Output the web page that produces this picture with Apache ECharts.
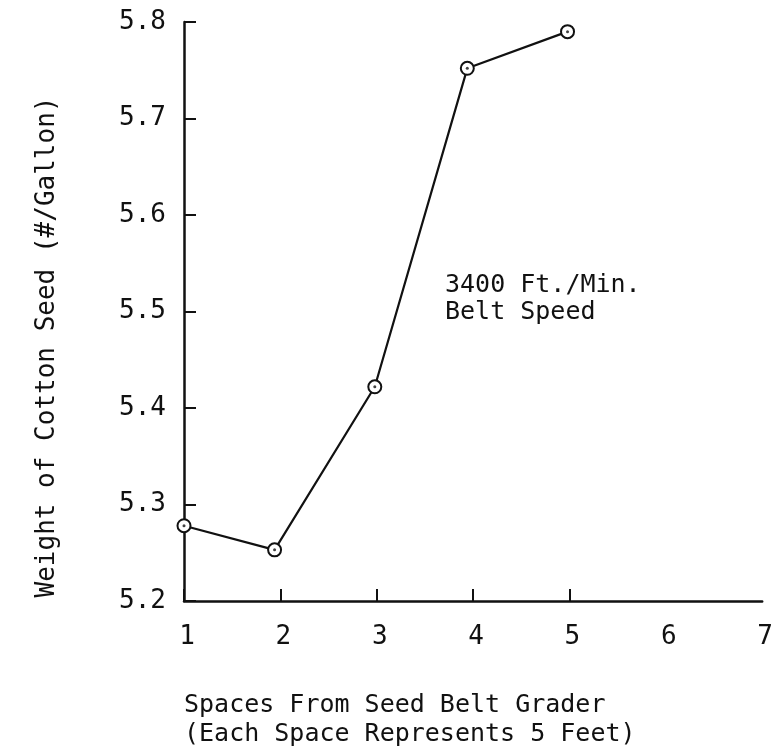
<!DOCTYPE html>
<html>
<head>
<meta charset="utf-8">
<script src="https://cdn.jsdelivr.net/npm/echarts@6/dist/echarts.min.js"></script>
<style>
  html, body { margin: 0; padding: 0; background: #fff; }
  #chart { width: 776px; height: 755px; }
</style>
</head>
<body>
<div id="chart"></div>
<script>
  // values
  var spaces = [1, 1.94, 2.98, 3.94, 4.98];
  var weights = [5.278, 5.253, 5.422, 5.752, 5.79];
  var xTicks = [1, 2, 3, 4, 5, 6, 7];
  var xTickMarks = [1, 2, 3, 4, 5];   // the drawn ticks stop at 5
  var yTicks = [5.2, 5.3, 5.4, 5.5, 5.6, 5.7, 5.8];

  var ink = '#111';
  var font = '"DejaVu Sans Mono", "Liberation Mono", monospace';

  var points = spaces.map(function (s, i) { return [s, weights[i]]; });

  var myChart = echarts.init(document.getElementById('chart'));

  var option = {
    backgroundColor: '#fff',
    animation: false,
    grid: { left: 184, right: 12, top: 22, bottom: 154 },
    xAxis: {
      type: 'value',
      min: xTicks[0],
      max: xTicks[xTicks.length - 1],
      interval: 1,
      splitLine: { show: false },
      axisLine: { lineStyle: { color: ink, width: 2.5 } },
      axisTick: {
        inside: true,
        length: 12,
        customValues: xTickMarks,
        lineStyle: { color: ink, width: 2 }
      },
      axisLabel: {
        margin: 23,
        padding: [0, 0, 0, 6],
        color: ink,
        fontFamily: font,
        fontSize: 26,
        formatter: function (v) { return String(v); }
      }
    },
    yAxis: {
      type: 'value',
      min: yTicks[0],
      max: yTicks[yTicks.length - 1],
      interval: 0.1,
      splitLine: { show: false },
      axisLine: { lineStyle: { color: ink, width: 2.5 } },
      axisTick: { inside: true, length: 12, lineStyle: { color: ink, width: 2 } },
      axisLabel: {
        margin: 18,
        color: ink,
        fontFamily: font,
        fontSize: 26,
        formatter: function (v) { return v.toFixed(1); }
      }
    },
    graphic: [
      {
        type: 'text',
        x: 47,
        y: 347,
        rotation: Math.PI / 2,
        style: {
          text: 'Weight of Cotton Seed (#/Gallon)',
          fill: ink,
          font: '26px ' + font,
          align: 'center',
          verticalAlign: 'middle'
        }
      },
      {
        type: 'text',
        left: 184,
        top: 691,
        style: {
          text: 'Spaces From Seed Belt Grader\n(Each Space Represents 5 Feet)',
          fill: ink,
          font: '25px ' + font,
          lineHeight: 29
        }
      },
      {
        type: 'text',
        left: 445,
        top: 272,
        style: {
          text: '3400 Ft./Min.\nBelt Speed',
          fill: ink,
          font: '25px ' + font,
          lineHeight: 27
        }
      }
    ],
    series: [
      {
        type: 'line',
        data: points,
        symbol: 'circle',
        symbolSize: 13,
        itemStyle: { color: '#fff', borderColor: ink, borderWidth: 2 },
        lineStyle: { color: ink, width: 2.2 },
        z: 2
      },
      {
        // dot inside each ring
        type: 'scatter',
        data: points,
        symbolSize: 3,
        itemStyle: { color: ink },
        z: 3
      }
    ]
  };

  myChart.setOption(option);
</script>
</body>
</html>
